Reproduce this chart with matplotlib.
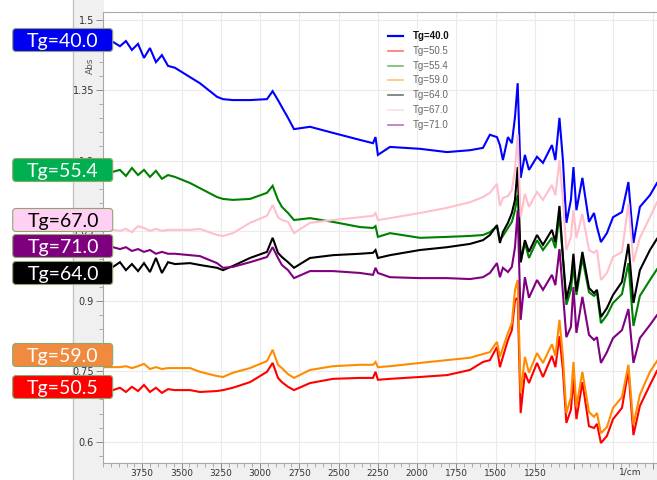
import matplotlib
matplotlib.use("Agg")
import matplotlib.pyplot as plt
from matplotlib.lines import Line2D
from matplotlib.patches import Rectangle, FancyBboxPatch
from matplotlib.ticker import FixedLocator, MultipleLocator, FixedFormatter

# wavenumbers (1/cm)
wavenumber = [3994, 3936, 3892, 3854, 3816, 3777, 3739, 3701, 3663, 3625, 3586, 3542,
              3446, 3383, 3274, 3236, 3173, 3064, 2956, 2920, 2886, 2861, 2822, 2784,
              2682, 2536, 2364, 2281, 2265, 2250, 2173, 1982, 1810, 1664, 1581, 1537,
              1492, 1473, 1454, 1422, 1397, 1377, 1360, 1341, 1314, 1288, 1237, 1199,
              1142, 1120, 1094, 1072, 1050, 1021, 1005, 986, 948, 906, 874, 855, 830,
              792, 753, 696, 655, 623, 582, 518, 473]

# absorbance of each sample
tg_40_0 = [1.457, 1.453, 1.444, 1.455, 1.436, 1.449, 1.419, 1.440, 1.410, 1.425, 1.402, 1.398,
           1.378, 1.365, 1.336, 1.331, 1.329, 1.329, 1.331, 1.348, 1.329, 1.314, 1.291, 1.267,
           1.272, 1.259, 1.244, 1.237, 1.250, 1.212, 1.229, 1.225, 1.218, 1.222, 1.227, 1.255,
           1.250, 1.233, 1.201, 1.250, 1.237, 1.293, 1.365, 1.163, 1.212, 1.180, 1.208, 1.195,
           1.233, 1.201, 1.291, 1.201, 1.067, 1.116, 1.186, 1.094, 1.163, 1.069, 1.088, 1.058,
           1.026, 1.045, 1.079, 1.090, 1.154, 1.024, 1.101, 1.126, 1.152]
tg_50_5 = [0.710, 0.710, 0.715, 0.706, 0.717, 0.708, 0.721, 0.706, 0.715, 0.704, 0.712, 0.710,
           0.710, 0.706, 0.708, 0.710, 0.715, 0.727, 0.749, 0.768, 0.736, 0.727, 0.717, 0.710,
           0.725, 0.734, 0.736, 0.736, 0.749, 0.732, 0.734, 0.738, 0.742, 0.753, 0.770, 0.774,
           0.802, 0.759, 0.781, 0.817, 0.838, 0.902, 0.907, 0.661, 0.747, 0.725, 0.768, 0.738,
           0.783, 0.759, 0.825, 0.753, 0.640, 0.668, 0.734, 0.648, 0.727, 0.633, 0.629, 0.638,
           0.597, 0.612, 0.648, 0.672, 0.753, 0.614, 0.676, 0.721, 0.751]
tg_55_4 = [1.176, 1.176, 1.180, 1.167, 1.184, 1.169, 1.180, 1.165, 1.178, 1.161, 1.169, 1.165,
           1.152, 1.141, 1.122, 1.118, 1.116, 1.118, 1.131, 1.146, 1.116, 1.101, 1.088, 1.073,
           1.077, 1.069, 1.058, 1.056, 1.060, 1.037, 1.045, 1.035, 1.037, 1.039, 1.041, 1.047,
           1.060, 1.030, 1.039, 1.056, 1.069, 1.094, 1.126, 0.983, 1.024, 0.992, 1.030, 1.009,
           1.035, 1.013, 1.084, 0.992, 0.892, 0.924, 0.977, 0.913, 0.992, 0.919, 0.911, 0.917,
           0.853, 0.870, 0.896, 0.915, 0.981, 0.847, 0.911, 0.945, 0.968]
tg_59_0 = [0.759, 0.759, 0.759, 0.761, 0.757, 0.761, 0.766, 0.755, 0.759, 0.755, 0.757, 0.757,
           0.757, 0.749, 0.740, 0.738, 0.747, 0.757, 0.772, 0.796, 0.764, 0.757, 0.744, 0.736,
           0.753, 0.761, 0.764, 0.764, 0.770, 0.759, 0.761, 0.768, 0.774, 0.779, 0.787, 0.791,
           0.813, 0.781, 0.800, 0.832, 0.853, 0.924, 0.945, 0.704, 0.781, 0.747, 0.789, 0.768,
           0.808, 0.783, 0.860, 0.781, 0.661, 0.695, 0.770, 0.674, 0.749, 0.663, 0.653, 0.661,
           0.618, 0.631, 0.672, 0.695, 0.764, 0.636, 0.700, 0.749, 0.772]
tg_64_0 = [0.973, 0.973, 0.983, 0.966, 0.979, 0.964, 0.981, 0.962, 0.992, 0.960, 0.983, 0.979,
           0.981, 0.977, 0.971, 0.966, 0.975, 0.992, 1.005, 1.035, 1.003, 0.994, 0.983, 0.971,
           0.992, 0.998, 1.001, 1.003, 1.009, 0.992, 0.998, 1.009, 1.015, 1.022, 1.030, 1.041,
           1.062, 1.024, 1.047, 1.067, 1.088, 1.116, 1.186, 0.983, 1.030, 1.005, 1.041, 1.020,
           1.052, 1.026, 1.103, 0.994, 0.904, 0.945, 1.001, 0.921, 1.005, 0.928, 0.917, 0.924,
           0.866, 0.885, 0.913, 0.941, 1.022, 0.896, 0.966, 1.009, 1.033]
tg_67_0 = [1.052, 1.052, 1.050, 1.054, 1.047, 1.060, 1.056, 1.050, 1.054, 1.050, 1.052, 1.052,
           1.052, 1.054, 1.041, 1.039, 1.045, 1.067, 1.082, 1.105, 1.079, 1.073, 1.069, 1.045,
           1.067, 1.073, 1.079, 1.082, 1.088, 1.073, 1.077, 1.088, 1.099, 1.111, 1.122, 1.131,
           1.150, 1.103, 1.120, 1.124, 1.137, 1.180, 1.255, 1.079, 1.129, 1.101, 1.133, 1.116,
           1.148, 1.126, 1.201, 1.116, 1.009, 1.037, 1.094, 1.035, 1.086, 1.009, 1.003, 1.009,
           0.945, 0.960, 0.994, 1.005, 1.109, 0.983, 1.035, 1.079, 1.111]
tg_71_0 = [1.015, 1.015, 1.011, 1.015, 1.007, 1.011, 1.005, 1.009, 1.001, 1.005, 1.001, 1.001,
           0.998, 0.996, 0.981, 0.971, 0.973, 0.983, 0.994, 1.015, 0.992, 0.977, 0.966, 0.949,
           0.964, 0.964, 0.960, 0.956, 0.971, 0.960, 0.951, 0.949, 0.949, 0.947, 0.951, 0.960,
           0.981, 0.951, 0.971, 0.962, 0.973, 1.015, 1.094, 0.860, 0.951, 0.907, 0.945, 0.924,
           0.956, 0.934, 1.011, 0.917, 0.823, 0.845, 0.930, 0.832, 0.909, 0.828, 0.817, 0.823,
           0.768, 0.791, 0.821, 0.838, 0.883, 0.768, 0.821, 0.849, 0.870]

series_names = ["Tg=40.0", "Tg=50.5", "Tg=55.4", "Tg=59.0", "Tg=64.0", "Tg=67.0", "Tg=71.0"]
series_values = [tg_40_0, tg_50_5, tg_55_4, tg_59_0, tg_64_0, tg_67_0, tg_71_0]
series_colors = ["blue", "red", "green", "darkorange", "black", "pink", "purple"]

# tag boxes on the left: label, box colour, text colour, centre row (pixels from top)
tag_labels = ["Tg=40.0", "Tg=55.4", "Tg=67.0", "Tg=71.0", "Tg=64.0", "Tg=59.0", "Tg=50.5"]
tag_fill = ["#0000f0", "#00b050", "#ffd0f4", "#7f007f", "#000000", "#ef8a3e", "#ff0000"]
tag_text = ["white", "white", "black", "white", "white", "white", "white"]
tag_rows = [40, 170, 220, 246, 273, 355, 387]

y_ticks = [0.6, 0.75, 0.9, 1.05, 1.2, 1.35, 1.5]
x_ticks = [3750, 3500, 3250, 3000, 2750, 2500, 2250, 2000, 1750, 1500, 1250, 1000, 750, 500]
x_tick_labels = ["3750", "3500", "3250", "3000", "2750", "2500", "2250", "2000",
                 "1750", "1500", "1250", "", "", ""]

W, H = 657, 480
fig = plt.figure(figsize=(W / 100, H / 100), dpi=100)
fig.patch.set_facecolor("white")

# grey frame strips around the plot area
strip = "#f0f0f0"
fig.add_artist(Rectangle((73 / W, 0), 31 / W, 1, transform=fig.transFigure,
                         facecolor=strip, edgecolor="none", zorder=-2))
fig.add_artist(Rectangle((73 / W, 0), 1 - 73 / W, 17 / H, transform=fig.transFigure,
                         facecolor=strip, edgecolor="none", zorder=-2))
fig.add_artist(Line2D([73 / W, 73 / W], [0, 1], transform=fig.transFigure,
                      color="#c4c4c4", lw=1.0, zorder=-1))

ax = fig.add_axes([103 / W, 17 / H, (W - 103) / W, 451 / H])
for name, vals, col in zip(series_names, series_values, series_colors):
    ax.plot(wavenumber, vals, color=col, lw=1.5, solid_joinstyle="miter")

ax.set_xlim(4000, 473)
ax.set_ylim(0.5544, 1.517)

ax.yaxis.set_major_locator(FixedLocator(y_ticks))
ax.yaxis.set_minor_locator(MultipleLocator(0.03))
ax.set_yticklabels(["%g" % v for v in y_ticks])
ax.xaxis.set_major_locator(FixedLocator(x_ticks))
ax.xaxis.set_major_formatter(FixedFormatter(x_tick_labels))
ax.xaxis.set_minor_locator(MultipleLocator(50))

ax.tick_params(axis="y", which="major", length=5, width=0.7, color="#8a8a8a",
               labelsize=7, labelcolor="#333333", pad=1.5)
ax.tick_params(axis="x", which="major", length=4, width=0.7, color="#8a8a8a",
               labelsize=6.5, labelcolor="#333333", pad=0.3)
ax.tick_params(axis="both", which="minor", length=3, width=0.6, color="#a0a0a0")
ax.grid(True, which="major", color="#ebebeb", lw=0.8)
ax.set_axisbelow(True)

for side in ["top", "bottom", "left"]:
    ax.spines[side].set_color("#a8a8a8")
    ax.spines[side].set_linewidth(0.8)
ax.spines["right"].set_visible(False)

fig.text(90 / W, 1 - 66 / H, "Abs", rotation=90, ha="center", va="center",
         fontsize=6.5, color="#555555")
fig.text(630 / W, 1 - 472 / H, "1/cm", ha="center", va="center",
         fontsize=6.5, color="#333333")

# legend drawn in pixel positions like the original software
for i, (name, col) in enumerate(zip(series_names, series_colors)):
    yrow = (H - (36 + i * 14.8)) / 100
    first = i == 0
    fig.add_artist(Line2D([388 / 100, 403 / 100], [yrow, yrow], transform=fig.dpi_scale_trans,
                          color=col, lw=1.6 if first else 1.2, alpha=1.0 if first else 0.55))
    fig.text(413 / 100, yrow, name, transform=fig.dpi_scale_trans, ha="left", va="center",
             fontsize=7, family="Liberation Sans",
             fontweight="bold" if first else "normal",
             color="#111111" if first else "#666666")

# coloured tags at the left edge
for lab, fill, tcol, yc in zip(tag_labels, tag_fill, tag_text, tag_rows):
    box = FancyBboxPatch((12.7 / 100, (H - yc - 11.5) / 100), 100 / 100, 23 / 100,
                         boxstyle="round,pad=0,rounding_size=0.035",
                         transform=fig.dpi_scale_trans, facecolor=fill,
                         edgecolor="#8ea66c", lw=0.8, zorder=5)
    fig.add_artist(box)
    fig.text(63 / 100, (H - yc) / 100, lab, transform=fig.dpi_scale_trans,
             ha="center", va="center_baseline", fontsize=14, family="Lato",
             color=tcol, zorder=6)

fig.savefig("out.png", dpi=100)
